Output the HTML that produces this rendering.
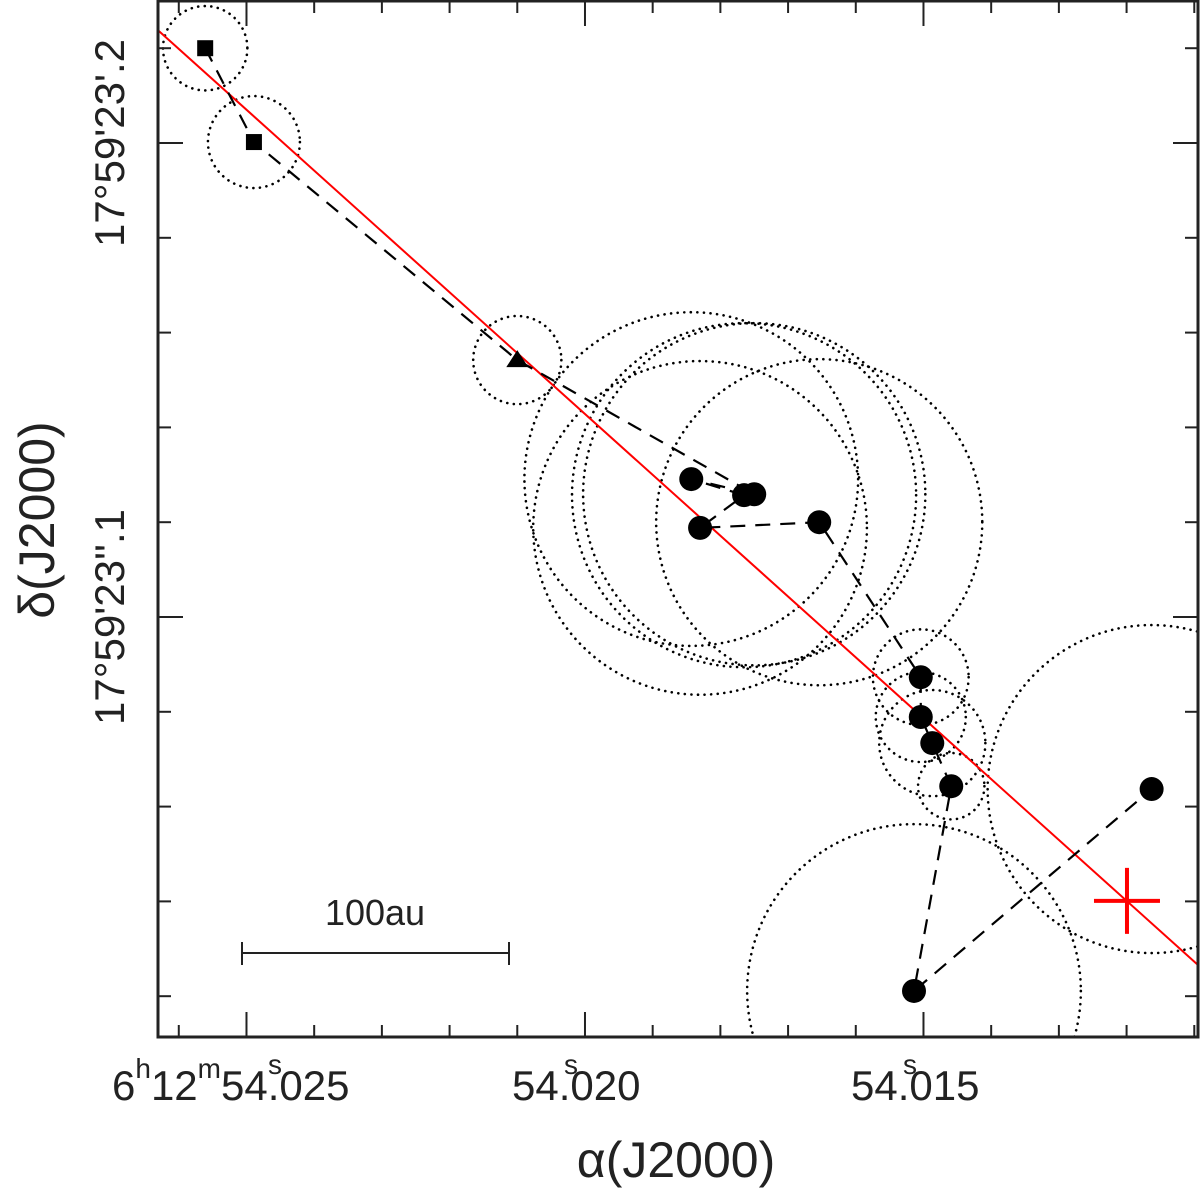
<!DOCTYPE html>
<html><head><meta charset="utf-8"><style>
html,body{margin:0;padding:0;background:#fff;}
svg{display:block;font-family:"Liberation Sans",sans-serif;}
</style></head><body>
<svg id="chart" width="1200" height="1189" viewBox="0 0 1200 1189">
<defs><clipPath id="plotclip"><rect x="158" y="1" width="1040" height="1036"/></clipPath></defs>
<g id="circles" clip-path="url(#plotclip)"></g>
<g id="redline"></g>
<g id="track"></g>
<g id="marks"></g>
<g id="axes"></g>
<g stroke="#222" stroke-width="2">
<line x1="242" y1="953" x2="509" y2="953"/><line x1="242" y1="942" x2="242" y2="965"/><line x1="509" y1="942" x2="509" y2="965"/>
</g>
<text x="375" y="925" font-size="36" text-anchor="middle" fill="#222">100au</text>
<text x="0" y="0" font-size="42" fill="#222" text-anchor="middle" transform="translate(124,143) rotate(-90)">17°59'23'.2</text>
<text x="0" y="0" font-size="42" fill="#222" text-anchor="middle" transform="translate(124,617) rotate(-90)">17°59'23''.1</text>
<text x="0" y="0" font-size="50" fill="#222" text-anchor="middle" transform="translate(54,520) rotate(-90)">δ(J2000)</text>
<text x="112" y="1100" font-size="42" fill="#222">6<tspan font-size="28" dy="-22">h</tspan><tspan dy="22">12</tspan><tspan font-size="28" dy="-22">m</tspan><tspan dy="22">54.025</tspan></text>
<text x="512" y="1100" font-size="42" fill="#222">54.020</text>
<text x="851" y="1100" font-size="42" fill="#222">54.015</text>
<text x="564" y="1074" font-size="28" fill="#222">s</text>
<text x="903" y="1074" font-size="28" fill="#222">s</text>
<text x="268" y="1074" font-size="28" fill="#222">s</text>
<text x="676" y="1177" font-size="50" fill="#222" text-anchor="middle">α(J2000)</text>
</svg>
<script>
// data (RA seconds of 6h12m, Dec arcsec of 17°59')
const ptRA  = [54.02561,54.02489,54.02100,54.01750,54.01843,54.01765,54.01830,54.01654,54.01504,54.01504,54.01487,54.01459,54.01514,54.01163];
const ptDec = [23.2200,23.2002,23.1542,23.1259,23.1291,23.1257,23.1188,23.1200,23.0873,23.0789,23.0734,23.0643,23.0211,23.0637];
const ptKind = ["square","square","triangle","circle","circle","circle","circle","circle","circle","circle","circle","circle","circle","circle"];
const errRad = [0.0089,0.0097,0.0093,0.0361,0.0352,0.0363,0.0352,0.0344,0.0101,0.0095,0.0112,0.0070,0.0352,0.0346];
const lineRA = [54.026307,54.010945];
const lineDec = [23.2238,23.02658];
const crossRA = [54.011994];
const crossDec = [23.0401];
const xMinor = [54.026,54.025,54.024,54.023,54.022,54.021,54.020,54.019,54.018,54.017,54.016,54.015,54.014,54.013,54.012,54.011];
const xMajor = [54.025,54.020,54.015];
const yMinor = [23.22,23.20,23.18,23.16,23.14,23.12,23.10,23.08,23.06,23.04,23.02];
const yMajor = [23.2,23.1];

const X0=158,X1=1198,Y0=1,Y1=1037;
const raL=54.026307, raR=54.010945, decT=23.22996, decB=23.01139;
function sx(ra){return X0+(raL-ra)/(raL-raR)*(X1-X0);}
function sy(d){return Y0+(decT-d)/(decT-decB)*(Y1-Y0);}
const arcPx=(Y1-Y0)/(decT-decB);
const NS="http://www.w3.org/2000/svg";
function mk(tag,attrs,parent){const e=document.createElementNS(NS,tag);for(const k in attrs)e.setAttribute(k,attrs[k]);parent.appendChild(e);return e;}

const gc=document.getElementById('circles');
for(let i=0;i<ptRA.length;i++){
  const c=mk('circle',{cx:sx(ptRA[i]),cy:sy(ptDec[i]),r:errRad[i]*arcPx,fill:'none',stroke:'#000','stroke-width':2.6,'stroke-dasharray':'0.1 6.5','stroke-linecap':'round'},gc);
  
  
}
const gr=document.getElementById('redline');
const rl=mk('line',{x1:sx(lineRA[0]),y1:sy(lineDec[0]),x2:sx(lineRA[1]),y2:sy(lineDec[1]),stroke:'#f00','stroke-width':2},gr);


const ccx=sx(crossRA[0]),ccy=sy(crossDec[0]);
const c1=mk('line',{x1:ccx-33,y1:ccy,x2:ccx+33,y2:ccy,stroke:'#f00','stroke-width':4},gr);


const c2=mk('line',{x1:ccx,y1:ccy-33,x2:ccx,y2:ccy+33,stroke:'#f00','stroke-width':4},gr);



const order=[0,1,2,3,4,5,6,7,8,9,10,11,12,13];
const gt=document.getElementById('track');
const pts=order.map(i=>sx(ptRA[i])+','+sy(ptDec[i])).join(' ');
const pl=mk('polyline',{points:pts,fill:'none',stroke:'#000','stroke-width':2.2,'stroke-dasharray':'15 10'},gt);



const gm=document.getElementById('marks');
for(let i=0;i<ptRA.length;i++){
  const x=sx(ptRA[i]),y=sy(ptDec[i]);let m;
  if(ptKind[i]==='square') m=mk('rect',{x:x-8,y:y-8,width:16,height:16,fill:'#000'},gm);
  else if(ptKind[i]==='triangle') m=mk('polygon',{points:(x)+','+(y-10)+' '+(x-11)+','+(y+7)+' '+(x+11)+','+(y+7),fill:'#000'},gm);
  else m=mk('circle',{cx:x,cy:y,r:12,fill:'#000'},gm);
  
  
}

const ga=document.getElementById('axes');
const box=mk('rect',{x:X0,y:Y0,width:X1-X0,height:Y1-Y0,fill:'none',stroke:'#222','stroke-width':3},ga);


xMinor.forEach(v=>{const x=sx(v);const L=xMajor.some(m=>Math.abs(m-v)<1e-6)?25:12;
  const t=mk('line',{x1:x,y1:Y1,x2:x,y2:Y1-L,stroke:'#222','stroke-width':2},ga);
  
  
  const t2=mk('line',{x1:x,y1:Y0,x2:x,y2:Y0+L,stroke:'#222','stroke-width':2},ga);
  
  
});
yMinor.forEach(v=>{const y=sy(v);const L=yMajor.some(m=>Math.abs(m-v)<1e-6)?25:13;
  const t=mk('line',{x1:X0,y1:y,x2:X0+L,y2:y,stroke:'#222','stroke-width':2},ga);
  
  
  const t2=mk('line',{x1:X1,y1:y,x2:X1-L,y2:y,stroke:'#222','stroke-width':2},ga);
  
  
});
</script>
</body></html>
